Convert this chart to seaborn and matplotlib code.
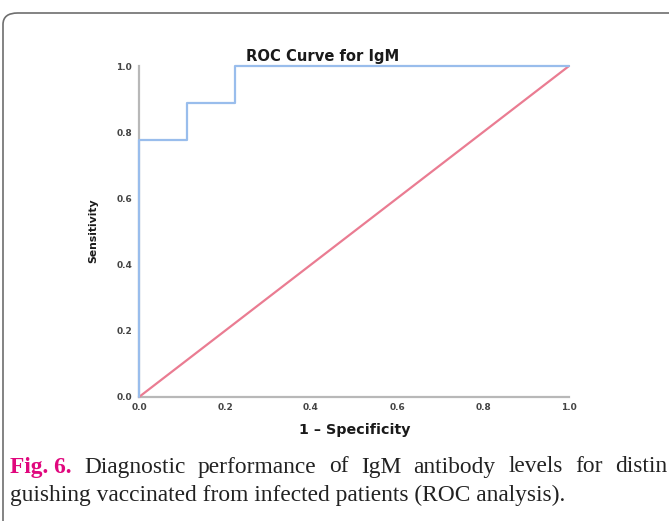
import matplotlib
matplotlib.use("Agg")
import matplotlib.pyplot as plt
from matplotlib.patches import FancyBboxPatch
import seaborn as sns
import pandas as pd

# Data
fpr = [0.0, 0.0, 1/9, 1/9, 2/9, 2/9, 1.0]
tpr = [0.0, 7/9, 7/9, 8/9, 8/9, 1.0, 1.0]
ref_x = [0.0, 1.0]
ref_y = [0.0, 1.0]
ticks = [0.0, 0.2, 0.4, 0.6, 0.8, 1.0]
tick_labels = ["0.0", "0.2", "0.4", "0.6", "0.8", "1.0"]

title = "ROC Curve for IgM"
xlabel = "1 \u2013 Specificity"
ylabel = "Sensitivity"
cap_head = "Fig. 6."
cap_line1 = "Diagnostic performance of IgM antibody levels for distin"
cap_line2 = "guishing vaccinated from infected patients (ROC analysis)."

sns.set_theme(style="white")
plt.rcParams["font.family"] = ["DejaVu Sans"]

W, H = 669, 521
fig = plt.figure(figsize=(W / 100, H / 100), dpi=100)
fig.patch.set_facecolor("white")

# card border
card = FancyBboxPatch((3 / W, -40 / H), 760 / W, (521 - 13 + 40) / H,
                      boxstyle="round,pad=0,rounding_size=0.022",
                      transform=fig.transFigure, facecolor="none",
                      edgecolor="#6e6e6e", linewidth=1.2, clip_on=False)
fig.patches.append(card)

ax = fig.add_axes([139 / W, 1 - 397 / H, 430 / W, 331 / H])
ax.set_facecolor("none")

roc = pd.DataFrame({"fpr": fpr, "tpr": tpr})
ref = pd.DataFrame({"x": ref_x, "y": ref_y})
sns.lineplot(data=ref, x="x", y="y", ax=ax, color="#ea7c92", linewidth=1.6,
             sort=False, estimator=None, clip_on=False, zorder=3)
sns.lineplot(data=roc, x="fpr", y="tpr", ax=ax, color="#99bdec", linewidth=1.6,
             sort=False, estimator=None, clip_on=False, zorder=4)

ax.set_xlim(0, 1)
ax.set_ylim(0, 1)
ax.set_xticks(ticks)
ax.set_yticks(ticks)
ax.set_xticklabels(tick_labels, fontsize=6.5, fontweight="bold", color="#444444")
ax.set_yticklabels(tick_labels, fontsize=6.5, fontweight="bold", color="#444444")
ax.tick_params(axis="both", length=0, pad=5)
ax.tick_params(axis="x", pad=4)
ax.set_xlabel("")
ax.set_ylabel("")
for s in ["top", "right"]:
    ax.spines[s].set_visible(False)
for s in ["left", "bottom"]:
    ax.spines[s].set_color("#b8b8b8")
    ax.spines[s].set_linewidth(1.6)

fig.text(323 / W, 1 - 56 / H, title, ha="center", va="center",
         fontsize=10.6, fontweight="bold", color="#1a1a1a")
fig.text(355 / W, 1 - 430 / H, xlabel, ha="center", va="center",
         fontsize=10.3, fontweight="bold", color="#1a1a1a")
fig.text(93 / W, 1 - 231 / H, ylabel, ha="center", va="center", rotation=90,
         fontsize=7.8, fontweight="bold", color="#1a1a1a")

# caption (first line justified across the full width, as in the source)
serif = ["Liberation Serif", "DejaVu Serif"]
cap_fs = 16.8
renderer = fig.canvas.get_renderer()
words = [(cap_head, True)] + [(w, False) for w in cap_line1.split(" ")]
arts = []
for w, bold in words:
    t = fig.text(0, 1 - 467 / H, w, ha="left", va="center", fontsize=cap_fs,
                 fontweight="bold" if bold else "normal",
                 color="#e0077d" if bold else "#222222", family=serif)
    arts.append(t)
widths = [a.get_window_extent(renderer).width for a in arts]
x0, x1 = 10.0, 667.0
gap = (x1 - x0 - sum(widths)) / (len(arts) - 1)
x = x0
for a, wd in zip(arts, widths):
    a.set_x(x / W)
    x += wd + gap
fig.text(10 / W, 1 - 495 / H, cap_line2, ha="left", va="center",
         fontsize=cap_fs, color="#222222", family=serif)

fig.savefig("out.png", dpi=100)
